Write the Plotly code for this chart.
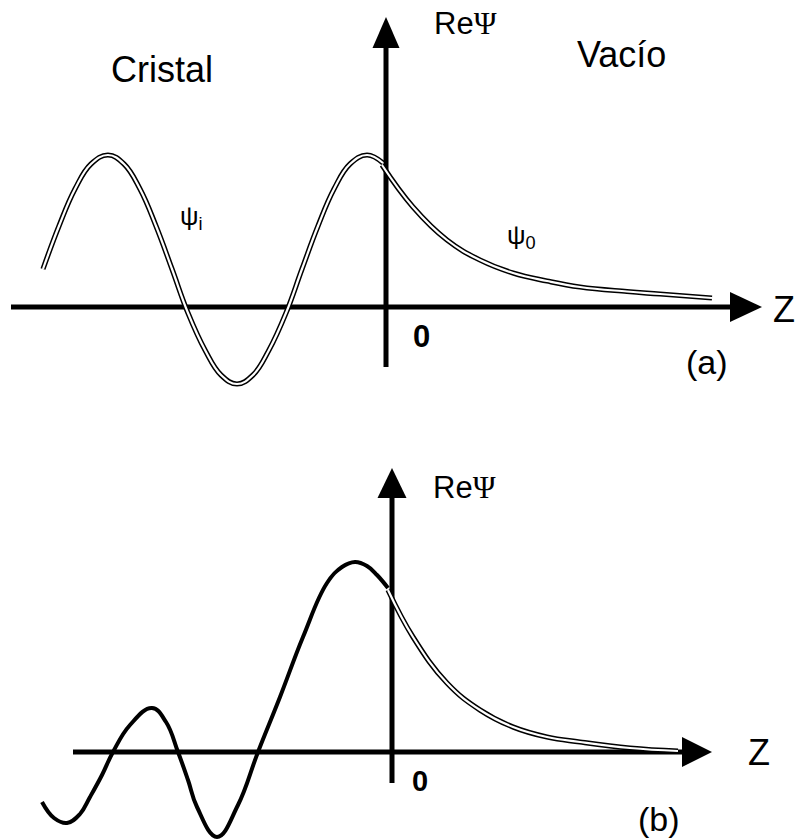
import plotly.graph_objects as go

# ---- data (z along the surface normal, Re psi) ----
# panel (a): wave inside the crystal and evanescent tail in vacuum
z_crystal_a = [-3.43, -3.27, -3.11, -2.95, -2.78, -2.62, -2.46, -2.30, -2.14, -1.98, -1.81,
               -1.65, -1.49, -1.33, -1.17, -1.00, -0.84, -0.68, -0.52, -0.36, -0.19, -0.03]
psi_crystal_a = [0.38, 0.81, 1.18, 1.43, 1.52, 1.43, 1.18, 0.81, 0.38, -0.06, -0.43,
                 -0.68, -0.77, -0.68, -0.43, -0.06, 0.38, 0.81, 1.18, 1.43, 1.52, 1.44]
z_vacuum_a = [-0.04, 0.27, 0.61, 0.94, 1.27, 1.61, 1.94, 2.41, 2.74, 3.26]
psi_vacuum_a = [1.42, 1.00, 0.67, 0.47, 0.34, 0.26, 0.20, 0.155, 0.13, 0.09]

# panel (b): damped wave inside the crystal and evanescent tail in vacuum
z_crystal_b = [-3.50, -3.38, -3.25, -3.12, -3.02, -2.90, -2.79, -2.62, -2.40, -2.26, -2.14,
               -2.04, -1.95, -1.75, -1.54, -1.34, -1.12, -0.89, -0.65, -0.50, -0.37,
               -0.25, -0.15, -0.04]
psi_crystal_b = [-0.50, -0.66, -0.71, -0.62, -0.45, -0.23, 0.00, 0.27, 0.44, 0.30, 0.00,
                 -0.28, -0.55, -0.85, -0.53, 0.00, 0.55, 1.15, 1.69, 1.85, 1.90,
                 1.86, 1.77, 1.64]
z_vacuum_b = [-0.04, 0.21, 0.55, 0.88, 1.21, 1.55, 1.88, 2.38, 2.86]
psi_vacuum_b = [1.62, 1.15, 0.69, 0.42, 0.25, 0.15, 0.10, 0.04, 0.01]

# axis extents: (z_min, z_arrow_base, z_tip, psi_min, psi_arrow_base, psi_tip)
axes_a = (-3.75, 3.44, 3.76, -0.60, 2.59, 2.90)
axes_b = (-3.19, 2.90, 3.20, -0.31, 2.54, 2.84)

SANS = "Liberation Sans, Arial, sans-serif"
PSI_CAP = "<span style='font-family:Liberation Serif, Times New Roman, serif'>Ψ</span>"

fig = go.Figure()


def hollow(z, psi, xa, ya):
    """Outlined curve: a wide black stroke with a thin white core."""
    fig.add_trace(go.Scatter(x=z, y=psi, mode="lines", xaxis=xa, yaxis=ya,
                             line=dict(color="black", width=5.2, shape="spline", smoothing=1.2),
                             hoverinfo="skip"))
    fig.add_trace(go.Scatter(x=z, y=psi, mode="lines", xaxis=xa, yaxis=ya,
                             line=dict(color="white", width=2.2, shape="spline", smoothing=1.2),
                             hoverinfo="skip"))


def solid(z, psi, xa, ya):
    fig.add_trace(go.Scatter(x=z, y=psi, mode="lines", xaxis=xa, yaxis=ya,
                             line=dict(color="black", width=4, shape="spline", smoothing=1.2),
                             hoverinfo="skip"))


def draw_axes(ext, xref, yref, hx, hy):
    z0, zb, zt, p0, pb, pt = ext
    common = dict(xref=xref, yref=yref, layer="below")
    fig.add_shape(type="line", x0=z0, y0=0, x1=zb, y1=0,
                  line=dict(color="black", width=5), **common)
    fig.add_shape(type="line", x0=0, y0=p0, x1=0, y1=pb,
                  line=dict(color="black", width=5), **common)
    fig.add_shape(type="path", path=f"M {zb},{-hy} L {zt},0 L {zb},{hy} Z",
                  fillcolor="black", line=dict(width=0), **common)
    fig.add_shape(type="path", path=f"M {-hx},{pb} L 0,{pt} L {hx},{pb} Z",
                  fillcolor="black", line=dict(width=0), **common)


# panel (a)
hollow(z_crystal_a, psi_crystal_a, "x", "y")
hollow(z_vacuum_a, psi_vacuum_a, "x", "y")
draw_axes(axes_a, "x", "y", 0.135, 0.15)

# panel (b)
solid(z_crystal_b, psi_crystal_b, "x2", "y2")
hollow(z_vacuum_b, psi_vacuum_b, "x2", "y2")
draw_axes(axes_b, "x2", "y2", 0.145, 0.15)


def label(text, x, y, xref, yref, size, xanchor="center"):
    fig.add_annotation(text=text, x=x, y=y, xref=xref, yref=yref, showarrow=False,
                       xanchor=xanchor, yanchor="middle",
                       font=dict(family=SANS, size=size, color="black"))


label("Cristal", -2.24, 2.38, "x", "y", 36)
label("Vacío", 2.35, 2.53, "x", "y", 36)
label("Re" + PSI_CAP, 0.79, 2.84, "x", "y", 31)
label("<b>0</b>", 0.35, -0.29, "x", "y", 31)
label("(a)", 3.21, -0.55, "x", "y", 34)
label("Z", 3.85, -0.02, "x", "y", 36, xanchor="left")
label("ψ<sub>i</sub>", -2.08, 0.90, "x", "y", 26, xanchor="left")
label("ψ<sub>0</sub>", 1.19, 0.71, "x", "y", 26, xanchor="left")

label("Re" + PSI_CAP, 0.72, 2.65, "x2", "y2", 31)
label("Z", 3.67, 0.0, "x2", "y2", 36)
label("<b>0</b>", 0.28, -0.29, "x2", "y2", 29)
label("(b)", 2.67, -0.67, "x2", "y2", 34)

hidden = dict(visible=False, showgrid=False, zeroline=False, fixedrange=True)
fig.update_layout(
    width=798, height=840,
    margin=dict(l=0, r=0, t=0, b=0),
    paper_bgcolor="white", plot_bgcolor="white",
    showlegend=False,
    xaxis=dict(domain=[0, 1], range=[-3.86, 4.12], anchor="y", **hidden),
    yaxis=dict(domain=[0.5, 1], range=[-1.13, 3.07], anchor="x", **hidden),
    xaxis2=dict(domain=[0, 1], range=[-3.92, 4.06], anchor="y2", **hidden),
    yaxis2=dict(domain=[0, 0.5], range=[-0.88, 3.32], anchor="x2", **hidden),
)

fig.write_html("out.html")
